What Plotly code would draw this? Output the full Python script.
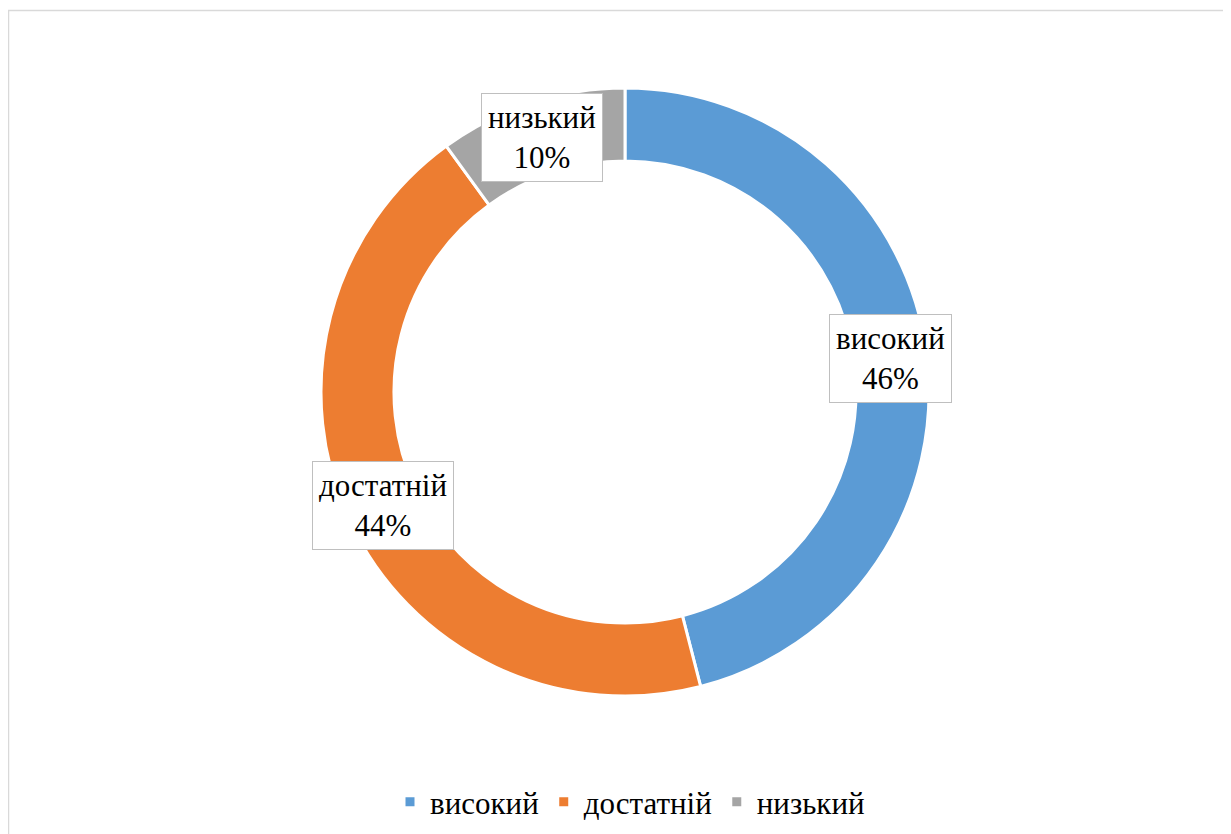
import math
import plotly.graph_objects as go

labels = ["високий", "достатній", "низький"]
values = [46, 44, 10]
colors = ["#5B9BD5", "#ED7D31", "#A5A5A5"]

OFF = 8                       # page body margin in the browser
W, H = 1231 - OFF, 834 - OFF  # figure size
cx, cy, R = 625 - OFF, 392 - OFF, 304
hole = 0.76
FONT = "Liberation Serif"

fig = go.Figure(go.Pie(
    labels=labels, values=values, hole=hole, sort=False, direction="clockwise",
    marker=dict(colors=colors, line=dict(color="white", width=3)),
    textinfo="none",
    domain=dict(x=[(cx - R) / W, (cx + R) / W], y=[1 - (cy + R) / H, 1 - (cy - R) / H]),
))

# data labels at the middle of each ring segment, derived from the values
total = sum(values)
rmid = R * (1 + hole) / 2
cum = 0
annotations = []
for lab, v in zip(labels, values):
    mid = (cum + v / 2) / total * 2 * math.pi
    cum += v
    px = cx + rmid * math.sin(mid)
    py = cy - rmid * math.cos(mid)
    annotations.append(dict(
        x=px / W, y=1 - py / H, xref="paper", yref="paper", showarrow=False,
        xanchor="center", yanchor="middle",
        text=f"{lab}<br>{round(v / total * 100)}%",
        font=dict(family=FONT, size=31, color="black"),
        bgcolor="white", bordercolor="#BFBFBF", borderwidth=1, borderpad=6,
    ))

fig.update_layout(
    width=W, height=H, margin=dict(l=0, r=0, t=0, b=0),
    annotations=annotations,
    legend=dict(orientation="h", x=(630 - OFF) / W, xanchor="center", y=1 - (802 - OFF) / H,
                yanchor="middle", font=dict(family=FONT, size=31, color="black")),
    shapes=[dict(type="rect", xref="paper", yref="paper",
                 x0=0.5 / W, x1=1.05, y0=-0.05, y1=1 - 2.5 / H,
                 line=dict(color="#D9D9D9", width=1.5))],
)

fig.write_html("out.html")
